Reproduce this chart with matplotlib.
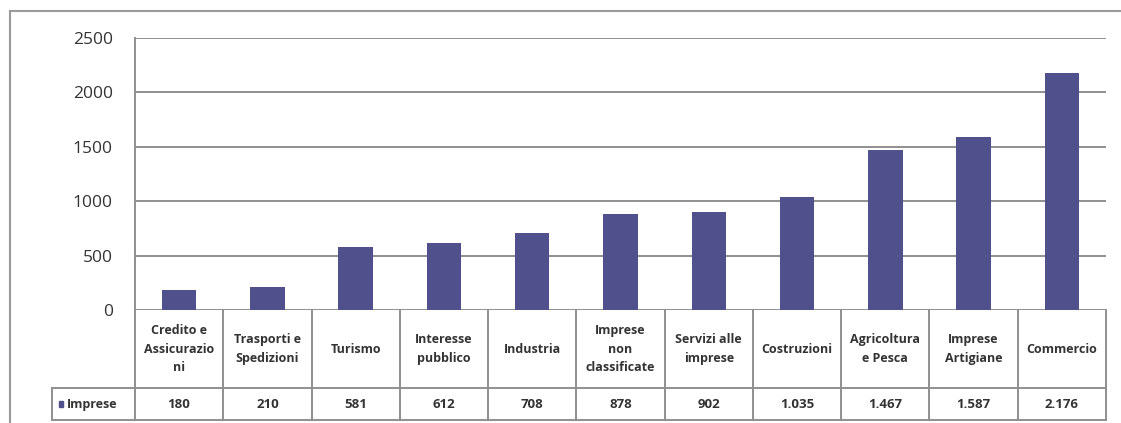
import matplotlib.pyplot as plt
import matplotlib.transforms as mtransforms
from matplotlib.lines import Line2D
from matplotlib.patches import Rectangle

# Imprese per settore
settori = ["Credito e\nAssicurazio\nni", "Trasporti e\nSpedizioni", "Turismo",
           "Interesse\npubblico", "Industria", "Imprese\nnon\nclassificate",
           "Servizi alle\nimprese", "Costruzioni", "Agricoltura\ne Pesca",
           "Imprese\nArtigiane", "Commercio"]
imprese = [180, 210, 581, 612, 708, 878, 902, 1035, 1467, 1587, 2176]
yticks = [0, 500, 1000, 1500, 2000, 2500]
serie = "Imprese"

bar_color = "#50508c"
line_color = "#8f8f8f"
text_color = "#333333"

plt.rcParams["font.family"] = ["Open Sans", "DejaVu Sans"]

W, H = 1121, 423
fig = plt.figure(figsize=(W / 100, H / 100), dpi=100)

# outer frame of the chart area
fy = 1 - 11 / H
fx = 10 / W
fig.add_artist(Line2D([fx, 1], [fy, fy], color="#9a9a9a", lw=1.5))
fig.add_artist(Line2D([fx, fx], [0, fy], color="#9a9a9a", lw=1.5))

ax = fig.add_axes([135 / W, 113 / H, 971 / W, 272 / H])
x = list(range(len(imprese)))
ax.bar(x, imprese, width=0.39, color=bar_color, zorder=3)

ax.set_xlim(-0.5, len(imprese) - 0.5)
ax.set_ylim(0, 2500)
ax.set_yticks(yticks)
ax.set_xticks([])
ax.tick_params(axis="y", length=0, pad=16, labelsize=12.5, labelcolor=text_color)
ax.grid(axis="y", color=line_color, lw=1.4, zorder=1)
for s in ["top", "right", "bottom"]:
    ax.spines[s].set_visible(False)
ax.spines["left"].set_color(line_color)
ax.spines["left"].set_linewidth(1.4)

# data table under the plot
tr = mtransforms.blended_transform_factory(ax.transData, ax.transAxes)
y1 = -78 / 272
y2 = -110 / 272
x0, xn = -0.5, len(imprese) - 0.5
xh = x0 - 83 / (971 / len(imprese))


def tline(xs, ys):
    ax.add_line(Line2D(xs, ys, transform=tr, color=line_color, lw=1.4,
                       clip_on=False))


for i in range(len(imprese) + 1):
    tline([x0 + i, x0 + i], [0, y2])
tline([xh, xn], [y1, y1])
tline([xh, xn], [y2, y2])
tline([xh, xh], [y1, y2])

for i, (lab, v) in enumerate(zip(settori, imprese)):
    ax.text(i, y1 / 2, lab, transform=tr, ha="center", va="center",
            fontsize=9, fontweight="bold", color=text_color,
            linespacing=1.55, clip_on=False)
    ax.text(i, (y1 + y2) / 2, f"{v:,}".replace(",", "."), transform=tr,
            ha="center", va="center", fontsize=9.5, fontweight="bold",
            color=text_color, clip_on=False)

# legend key in the row header
ax.add_patch(Rectangle((xh + 0.08, (y1 + y2) / 2 - 0.01), 0.045, 0.02,
                       transform=tr, color=bar_color, clip_on=False))
ax.text(xh + 0.17, (y1 + y2) / 2, serie, transform=tr, ha="left",
        va="center", fontsize=9, fontweight="bold", color=text_color,
        clip_on=False)

fig.savefig("out.png", dpi=100)
